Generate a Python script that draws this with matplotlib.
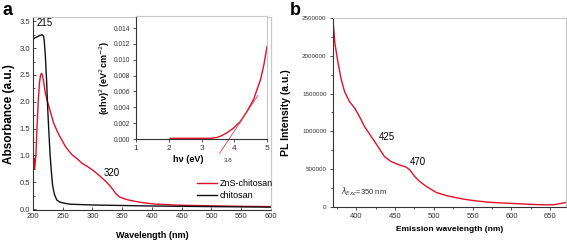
import numpy as np
import matplotlib.pyplot as plt
from matplotlib.ticker import MultipleLocator

# panel a: UV-vis absorbance
wl_chi = [200, 203, 207, 212, 216, 218, 219, 221, 223, 225, 227, 229, 231, 233, 236, 240, 245, 252, 262, 300, 400, 500, 600]
abs_chi = [3.16, 3.19, 3.21, 3.24, 3.25, 3.22, 3.15, 2.85, 2.40, 1.85, 1.40, 1.00, 0.70, 0.45, 0.28, 0.17, 0.13, 0.11, 0.09, 0.075,
           0.056, 0.045, 0.035]

wl_zns = [200, 201, 202, 203, 205, 207, 209, 211, 213, 214.6, 216, 218, 221, 224, 227, 231, 235, 240, 244, 250, 255, 260, 266,
          275, 283, 292, 300, 310, 317, 323, 328, 334, 339, 345, 351, 360, 373, 390, 407, 450, 500, 550, 600]
abs_zns = [0.88, 0.76, 0.95, 0.74, 1.0, 1.54, 2.0, 2.35, 2.5, 2.53, 2.5, 2.38, 2.16, 2.02, 1.91, 1.75, 1.6, 1.47, 1.38, 1.26,
           1.16, 1.09, 1.01, 0.93, 0.85, 0.79, 0.73, 0.64, 0.57, 0.51, 0.45, 0.37, 0.29, 0.23, 0.2, 0.17, 0.14, 0.11, 0.09,
           0.07, 0.06, 0.05, 0.045]

# inset: Tauc plot
hv = [2.04, 2.5, 3.0, 3.3, 3.47, 3.6, 3.78, 3.98, 4.18, 4.39, 4.59, 4.8, 4.9, 5.0]
ahv2 = [0.0001, 0.0001, 0.0001, 0.0001, 0.0002, 0.0004, 0.0008, 0.0014, 0.0022, 0.0035, 0.0050, 0.0075, 0.0093, 0.0117]
fit_x = [3.55, 4.72]
fit_y = [-0.0018, 0.0055]

# panel b: PL emission
em_wl = [370, 372.6, 376.8, 381, 385.3, 391.7, 398, 404.6, 411, 419.6, 428, 436.6, 445, 456, 464.7, 469, 475.6, 482, 490.6,
         503.4, 516, 537, 554, 571, 592, 613, 631, 647, 655, 666, 670]
pl = [2.5e6, 2.17e6, 1.90e6, 1.68e6, 1.52e6, 1.39e6, 1.31e6, 1.19e6, 1.06e6, 0.93e6, 0.80e6, 0.665e6, 0.60e6, 0.555e6,
      0.525e6, 0.49e6, 0.40e6, 0.335e6, 0.27e6, 0.19e6, 0.15e6, 0.105e6, 0.08e6, 0.062e6, 0.05e6, 0.04e6, 0.031e6,
      0.027e6, 0.03e6, 0.05e6, 0.06e6]

red = '#e0102a'
plt.rcParams['font.family'] = 'Liberation Sans'

fig = plt.figure(figsize=(5.67, 2.44), dpi=100)

def style(ax, direction, size):
    for s in ['top', 'right']:
        ax.spines[s].set_color('#c8c8c8')
    for s in ['left', 'bottom']:
        ax.spines[s].set_color('#333333')
        ax.spines[s].set_linewidth(0.8)
    ax.tick_params(which='both', direction=direction, labelsize=size, colors='#333333', length=2.5, width=0.6,
                   top=False, right=False, pad=2)
    ax.tick_params(which='minor', length=1.5)

ax = fig.add_axes([0.058, 0.139, 0.420, 0.791])
ax.plot(wl_zns, abs_zns, color=red, lw=1.0, label='ZnS-chitosan')
ax.plot(wl_chi, abs_chi, color='#111111', lw=1.0, label='chitosan')
ax.set_xlim(200, 600)
ax.set_ylim(-0.02, 3.58)
ax.set_yticks(np.arange(0, 3.6, 0.5))
ax.xaxis.set_minor_locator(MultipleLocator(50))
ax.yaxis.set_minor_locator(MultipleLocator(0.25))
style(ax, 'in', 5.5)
ax.set_xlabel('Wavelength (nm)', fontsize=6.5, fontweight='bold', labelpad=8)
ax.set_ylabel('Absorbance (a.u.)', fontsize=8.5, fontweight='bold', labelpad=3)
ax.text(220, 3.42, '215', fontsize=7, ha='center')
ax.text(332, 0.62, '320', fontsize=7, ha='center')
ax.legend(loc='lower right', bbox_to_anchor=(1.04, 0.01), frameon=False, fontsize=6.5,
          handlelength=2.2, handletextpad=0.3, labelspacing=0.3)
fig.text(0.004, 0.955, 'a', fontsize=13, fontweight='bold', va='center')

ins = fig.add_axes([0.240, 0.43, 0.231, 0.504])
ins.plot(hv, ahv2, color=red, lw=1.0)
ins.plot(fit_x, fit_y, color='#e04050', lw=0.6, clip_on=False)
ins.set_xlim(1, 5)
ins.set_ylim(0, 0.0155)
ins.set_xticks([1, 2, 3, 4, 5])
ins.set_yticks(np.arange(0, 0.0141, 0.002))
ins.yaxis.set_major_formatter(plt.FormatStrFormatter('%.3f'))
style(ins, 'out', 4.8)
ins.tick_params(axis='x', labelsize=6)
ins.set_xlabel('h\u03bd (eV)', fontsize=6.5, fontweight='bold', labelpad=1)
ins.xaxis.set_label_coords(0.4, -0.13)
ins.set_ylabel('(\u03b1h\u03bd)$^2$ (eV$^2$cm$^{-2}$)', fontsize=6.5, fontweight='bold', labelpad=1)
ins.text(3.8, -0.0024, '3.8', fontsize=4.5, color='#333333', ha='center', va='top')

bx = fig.add_axes([0.587, 0.152, 0.411, 0.774])
bx.plot(em_wl, pl, color=red, lw=1.0)
bx.set_xlim(370, 670)
bx.set_ylim(0, 2.5e6)
bx.set_xticks(np.arange(400, 651, 50))
bx.set_yticks(np.arange(0, 2.5e6 + 1, 5e5))
bx.yaxis.set_major_formatter(plt.FormatStrFormatter('%d'))
bx.xaxis.set_minor_locator(MultipleLocator(25))
bx.yaxis.set_minor_locator(MultipleLocator(2.5e5))
style(bx, 'out', 4.5)
bx.tick_params(axis='x', labelsize=5.5)
bx.set_xlabel('Emission wavelength (nm)', fontsize=6, fontweight='bold', labelpad=4)
bx.set_ylabel('PL Intensity (a.u.)', fontsize=7.5, fontweight='bold', labelpad=8)
bx.text(440, 0.92e6, '425', fontsize=7, ha='center', va='center')
bx.text(480, 0.59e6, '470', fontsize=7, ha='center', va='center')
bx.text(380, 0.2e6, '$\\lambda_{Exc}$=350 nm', fontsize=5.5, va='center', color='#333333')
fig.text(0.512, 0.955, 'b', fontsize=13, fontweight='bold', va='center')

fig.savefig('out.png', dpi=100)
